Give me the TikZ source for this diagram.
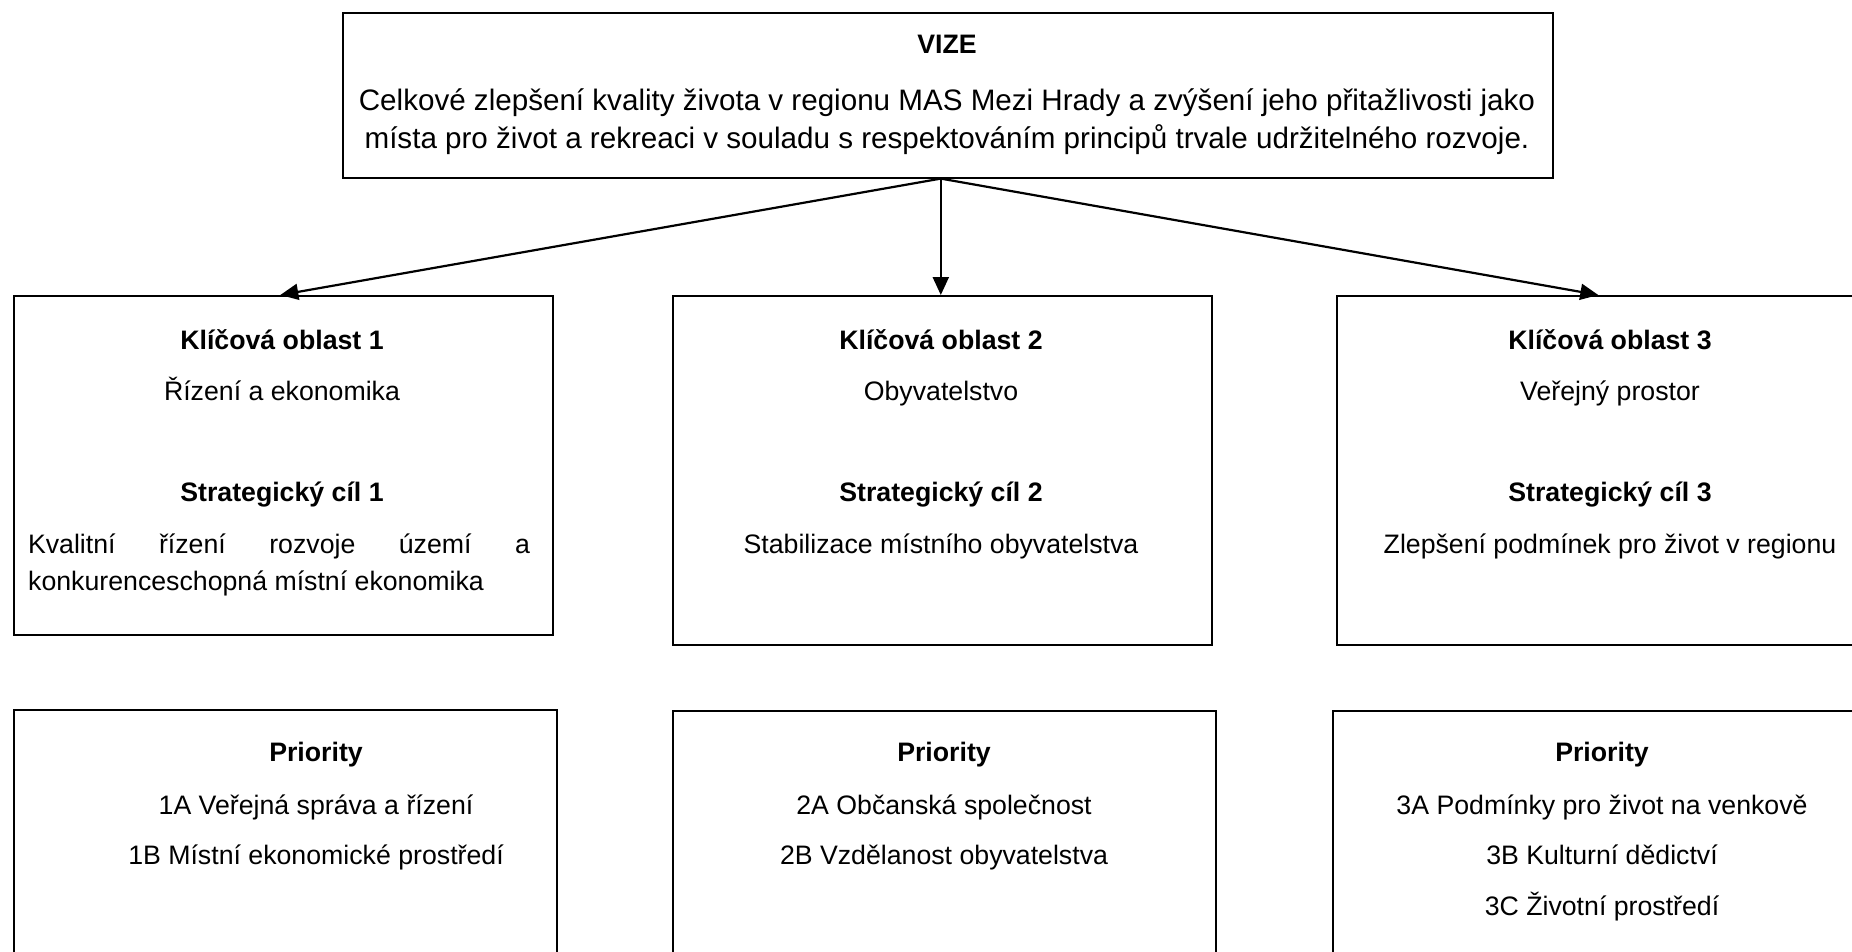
\documentclass[tikz,border=0pt]{standalone}
\usepackage{fontspec}
\setmainfont{Liberation Sans}
\usetikzlibrary{arrows.meta}
\begin{document}
\begin{tikzpicture}[x=1pt,y=-1pt,
  box/.style={draw, line width=1.6pt, rectangle, inner sep=0pt, anchor=north west},
  txt/.style={anchor=base, inner sep=0pt, font=\fontsize{26.7}{38}\selectfont},
  bigtxt/.style={anchor=base, inner sep=0pt, font=\fontsize{29.6}{38}\selectfont},
  hd/.style={anchor=base, inner sep=0pt, font=\fontsize{26.7}{38}\selectfont\bfseries},
  arr/.style={line width=2.2pt, -{Triangle[length=18pt,width=16pt]}}]
\useasboundingbox (0,0) rectangle (1852,951);
\clip (0,0) rectangle (1852,951);
% boxes
\node[box, minimum width=1210pt, minimum height=165pt] (vize) at (342,12) {};
\node[box, minimum width=539pt, minimum height=339pt] (k1) at (13,295) {};
\node[box, minimum width=539pt, minimum height=349pt] (k2) at (672,295) {};
\node[box, minimum width=539pt, minimum height=349pt] (k3) at (1336,295) {};
\node[box, minimum width=543pt, minimum height=300pt] (p1) at (13,709) {};
\node[box, minimum width=543pt, minimum height=300pt] (p2) at (672,710) {};
\node[box, minimum width=543pt, minimum height=300pt] (p3) at (1332,710) {};
% vize texts
\node[hd] (vt) at (947,53) {VIZE};
\node[bigtxt] (v1) at (947,110) {Celkové zlepšení kvality života v regionu MAS Mezi Hrady a zvýšení jeho přitažlivosti jako};
\node[bigtxt] (v2) at (947,148) {místa pro život a rekreaci v souladu s respektováním principů trvale udržitelného rozvoje.};
% key area 1
\node[hd] (k1t) at (282,349) {Klíčová oblast 1};
\node[txt] (k1s) at (282,400) {Řízení a ekonomika};
\node[hd] (k1c) at (282,501) {Strategický cíl 1};
\node[txt] (k1b1) at (279,553) {\hbox to 502pt{Kvalitní\hfill řízení\hfill rozvoje\hfill území\hfill a}};
\node[txt, anchor=base west] (k1b2) at (28,590) {konkurenceschopná místní ekonomika};
% key area 2
\node[hd] (k2t) at (941,349) {Klíčová oblast 2};
\node[txt] (k2s) at (941,400) {Obyvatelstvo};
\node[hd] (k2c) at (941,501) {Strategický cíl 2};
\node[txt] (k2b) at (941,553) {Stabilizace místního obyvatelstva};
% key area 3
\node[hd] (k3t) at (1610,349) {Klíčová oblast 3};
\node[txt] (k3s) at (1610,400) {Veřejný prostor};
\node[hd] (k3c) at (1610,501) {Strategický cíl 3};
\node[txt] (k3b) at (1610,553) {Zlepšení podmínek pro život v regionu};
% priorities
\node[hd] (p1t) at (316,761) {Priority};
\node[txt] (p1a) at (316,814) {1A Veřejná správa a řízení};
\node[txt] (p1b) at (316,864) {1B Místní ekonomické prostředí};
\node[hd] (p2t) at (944,761) {Priority};
\node[txt] (p2a) at (944,814) {2A Občanská společnost};
\node[txt] (p2b) at (944,864) {2B Vzdělanost obyvatelstva};
\node[hd] (p3t) at (1602,761) {Priority};
\node[txt] (p3a) at (1602,814) {3A Podmínky pro život na venkově};
\node[txt] (p3b) at (1602,864) {3B Kulturní dědictví};
\node[txt] (p3c) at (1602,915) {3C Životní prostředí};
% arrows
\coordinate (src) at ([xshift=-7pt]vize.south);
\draw[arr] (src) -- ([xshift=-3pt]k1.north);
\draw[arr] (src) -- (src |- k2.north);
\draw[arr] (src) -- ([xshift=-8pt]k3.north);
\end{tikzpicture}
\end{document}
